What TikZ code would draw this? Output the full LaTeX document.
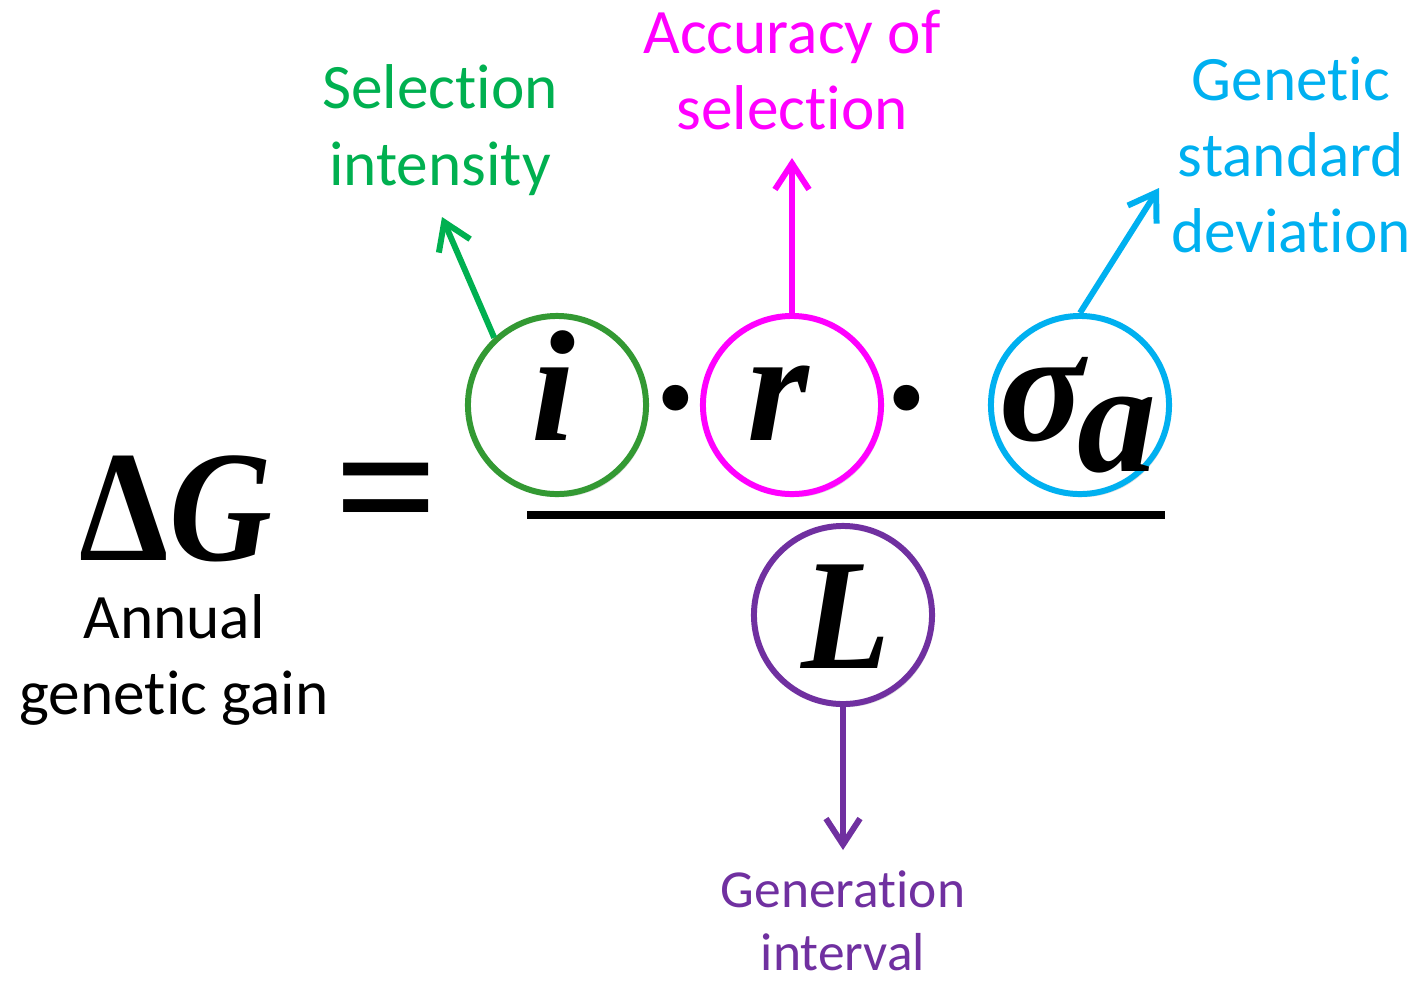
\documentclass[tikz,border=0pt]{standalone}
\usepackage{fontspec}
\setmainfont{Carlito}[Ligatures=NoCommon]
\newfontfamily\mfont{Liberation Serif}
\usetikzlibrary{arrows.meta,shadows}
\definecolor{cgreen}{HTML}{00B050}
\definecolor{cgreenc}{HTML}{339933}
\definecolor{cmag}{HTML}{FF00FF}
\definecolor{ccyan}{HTML}{00B0F0}
\definecolor{cpurp}{HTML}{7030A0}
\begin{document}
\begin{tikzpicture}[x=0.01cm,y=-0.01cm,
  ring/.style={circle,draw,fill=white,line width=1.7pt,minimum size=1.78cm,inner sep=0pt,
    drop shadow={opacity=0.25,shadow xshift=0.6pt,shadow yshift=-0.9pt}},
  lbl/.style={align=center,font=\fontsize{18}{21.7}\selectfont,inner sep=0pt},
  slbl/.style={align=center,font=\fontsize{15.2}{17.9}\selectfont,inner sep=0pt},
  arr/.style={line width=1.7pt,-{Straight Barb[length=2.6mm,width=3.4mm]}},
  big/.style={font=\fontsize{45}{50}\selectfont\mfont\bfseries\itshape,inner sep=0pt,anchor=base}]
\useasboundingbox (0,0) rectangle (1417,981);
% circles
\node[ring,draw=cgreenc] (ci) at (557,405) {};
\node[ring,draw=cmag] (cr) at (792,405) {};
\node[ring,draw=ccyan] (cs) at (1080,405) {};
\node[ring,draw=cpurp] (cL) at (843,615) {};
% letters
\node[big] (ti) at (553,440) {i};
\node[big] (tr) at (778,440) {r};
\node[big] (ts) at (1078,440) {σ\kern-2pt\lower9pt\hbox{a}};
\node[big] (tL) at (846,668) {\scalebox{0.92}[1]{L}};
\node[big,font=\fontsize{45}{50}\selectfont\mfont\bfseries] (tdot1) at (676,450) {·};
\node[big,font=\fontsize{45}{50}\selectfont\mfont\bfseries] (tdot2) at (907,450) {·};
% left side
\node[big] (tG) at (176,560) {\scalebox{0.9}[1]{{\upshape Δ}G}};
\node[big,font=\fontsize{52}{56}\selectfont\mfont\bfseries] (teq) at (387,548) {=};
% fraction bar
\coordinate (fl) at (527,515);
\coordinate (fr) at (1165,515);
\draw[line width=2.3pt] (fl) -- (fr);
% arrow ends
\coordinate (ai) at (442,217);
\coordinate (ar) at (792,158);
\coordinate (as) at (1159,188);
\coordinate (aL) at (843,850);
\draw[arr,cgreen] (ci.133) -- (ai);
\draw[arr,cmag] (cr.north) -- (ar);
\draw[arr,ccyan] (cs.north) -- (as);
\draw[arr,cpurp] (cL.south) -- (aL);
% labels
\node[lbl,text=cgreen] (li) at (440,130) {Selection\\intensity};
\node[lbl,text=cmag] (lr) at (792,70) {Accuracy of\\selection};
\node[lbl,text=ccyan] (ls) at (1291,155) {Genetic\\standard\\deviation};
\node[lbl] (lG) at (174,660) {Annual\\genetic gain};
\node[slbl,text=cpurp] (lL) at (843,921) {Generation\\interval};
\end{tikzpicture}
\end{document}
